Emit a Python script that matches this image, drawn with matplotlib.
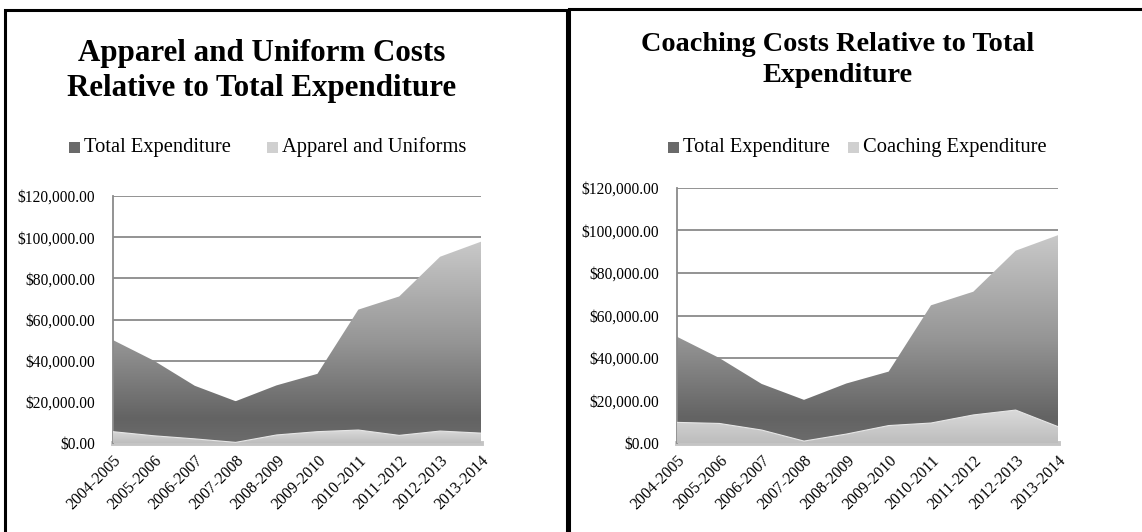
import numpy as np
import matplotlib
matplotlib.use("Agg")
import matplotlib.pyplot as plt
from matplotlib.colors import LinearSegmentedColormap
from matplotlib.patches import Rectangle
from matplotlib.ticker import FuncFormatter

seasons = ["2004-2005", "2005-2006", "2006-2007", "2007-2008", "2008-2009",
           "2009-2010", "2010-2011", "2011-2012", "2012-2013", "2013-2014"]
total_expenditure = [50000, 40000, 27800, 20300, 28000, 33600, 64800, 71200, 90500, 97800]
apparel_uniforms = [5500, 3500, 2000, 300, 3900, 5500, 6300, 3700, 5800, 4800]
coaching_expenditure = [9700, 9200, 6100, 900, 4200, 8200, 9400, 13200, 15500, 7700]

titles = ["Apparel and Uniform Costs\nRelative to Total Expenditure",
          "Coaching Costs Relative to Total\nExpenditure"]
legend_labels = [["Total Expenditure", "Apparel and Uniforms"],
                 ["Total Expenditure", "Coaching Expenditure"]]
y_ticks = [0, 20000, 40000, 60000, 80000, 100000, 120000]

W, H = 1142, 532
fig = plt.figure(figsize=(W / 100, H / 100), dpi=100)
SERIF = ["Liberation Serif", "DejaVu Serif"]

dark_cmap = LinearSegmentedColormap.from_list(
    "dark", [(0.0, "#6c6c6c"), (0.12, "#636363"), (0.5, "#959595"), (1.0, "#c9c9c9")])
light_cmap = LinearSegmentedColormap.from_list(
    "light", [(0.0, "#bdbdbd"), (1.0, "#dadada")])


def px_axes(x0, y0, x1, y1):
    return fig.add_axes([x0 / W, 1 - y1 / H, (x1 - x0) / W, (y1 - y0) / H])


def gradient_area(ax, x, y, cmap, z):
    poly = ax.fill_between(x, 0, y, color="none", lw=0, zorder=z)
    grad = np.linspace(0, 1, 256).reshape(-1, 1)
    im = ax.imshow(grad, extent=[x[0], x[-1], 0, max(y)], origin="lower",
                   aspect="auto", cmap=cmap, zorder=z, interpolation="bilinear")
    path = poly.get_paths()[0]
    im.set_clip_path(path, ax.transData)
    return poly


panels = [
    dict(ax=(113, 196, 481, 443), series=apparel_uniforms, title_xy=(262, 71), title_fs=22.3,
         title_ls=1.3, border=(5, 10, 567, 545), leg=(69, 267)),
    dict(ax=(677, 188, 1058, 443), series=coaching_expenditure, title_xy=(838, 60), title_fs=20.3,
         title_ls=1.3, border=(569, 9, 1160, 545), leg=(668, 848)),
]

x = np.arange(len(seasons))
for i, p in enumerate(panels):
    ax = px_axes(*p["ax"])
    gradient_area(ax, x, total_expenditure, dark_cmap, 2)
    gradient_area(ax, x, p["series"], light_cmap, 3)
    ax.plot(x, p["series"], color="#e6e6e6", lw=0.8, zorder=3.5)
    ax.set_xlim(x[0], x[-1])
    ax.set_ylim(0, 120000)
    ax.set_yticks(y_ticks)
    ax.yaxis.set_major_formatter(FuncFormatter(lambda v, _: f"${v:,.2f}"))
    for yv in y_ticks[1:]:
        ax.axhline(yv, color="#8a8a8a", lw=1.3, zorder=1)
    ax.axhline(0, color="#c4c4c4", lw=3.5, zorder=1.5, clip_on=False)
    for s in ["top", "right", "bottom"]:
        ax.spines[s].set_visible(False)
    ax.spines["left"].set_color("#8a8a8a")
    ax.spines["left"].set_linewidth(1.3)
    ax.tick_params(axis="both", length=0)
    ax.tick_params(axis="y", pad=13, labelsize=11.2)
    ax.set_xticks(x)
    ax.set_xticklabels(seasons, rotation=45, ha="right", va="top",
                       rotation_mode="anchor", family=SERIF, fontsize=11.5)
    ax.tick_params(axis="x", pad=7)
    for lab in ax.get_yticklabels():
        lab.set_family(SERIF)
    ax.set_facecolor("none")

    fig.text(p["title_xy"][0] / W, 1 - p["title_xy"][1] / H, titles[i], ha="center",
             va="center", fontsize=p["title_fs"], fontweight="bold", family=SERIF,
             linespacing=p["title_ls"])

    # legend
    ly = 147
    for j, (lx, col) in enumerate(zip(p["leg"], ["#6a6a6a", "#d0d0d0"])):
        fig.patches.append(Rectangle(((lx) / W, 1 - (ly + 5.5) / H), 11 / W, 11 / H,
                                     transform=fig.transFigure, facecolor=col, lw=0))
        fig.text((lx + 15) / W, 1 - ly / H, legend_labels[i][j], ha="left", va="center",
                 fontsize=14.8, family=SERIF)

    bx0, by0, bx1, by1 = p["border"]
    fig.patches.append(Rectangle((bx0 / W, 1 - by1 / H), (bx1 - bx0) / W, (by1 - by0) / H,
                                 transform=fig.transFigure, fill=False, ec="black", lw=2.2,
                                 clip_on=False))

fig.savefig("out.png", dpi=100)
